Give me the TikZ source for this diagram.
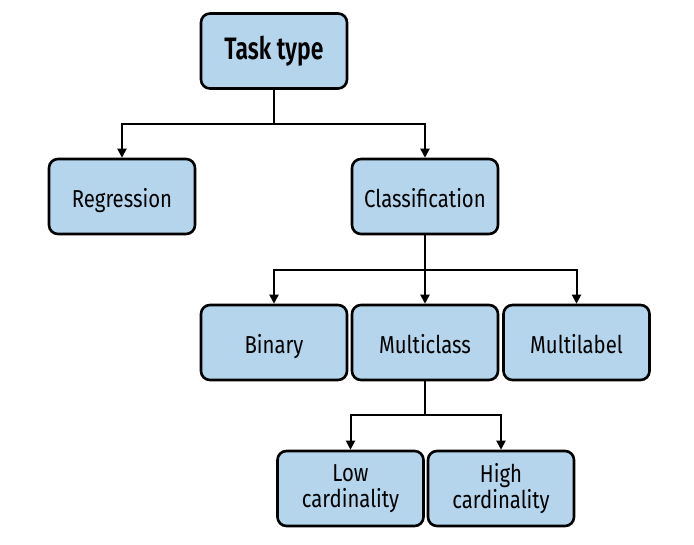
\documentclass[tikz,border=0pt]{standalone}
\usepackage{fontspec}
\setmainfont[FakeStretch=0.83]{Fira Sans}
\newfontfamily\boldfira[FakeStretch=0.74]{Fira Sans SemiBold}
\usetikzlibrary{arrows.meta}
\definecolor{boxblue}{HTML}{B4D5EC}
\tikzset{
  box/.style={draw=black, line width=2.6pt, fill=boxblue, rounded corners=9pt,
    minimum width=146pt, minimum height=75pt, align=center,
    font=\fontsize{24.5}{26.5}\selectfont, inner sep=0pt},
  oneline/.style={text height=21pt, text depth=0pt},
  arr/.style={line width=2pt, -{Triangle[length=9pt,width=9pt]}},
  ln/.style={line width=2pt}
}
\begin{document}
\begin{tikzpicture}[x=1pt,y=-1pt]
\useasboundingbox (0,0) rectangle (694,544);
\node[box, font=\boldfira\fontsize{31}{33}\selectfont] (task) at (274,51) {Task type};
\node[box, oneline] (reg) at (122,196.5) {Regression};
\node[box, oneline] (cls) at (425,196.5) {Classification};
\node[box, oneline] (bin) at (274,342.5) {Binary};
\node[box, oneline] (mc) at (425,342.5) {Multiclass};
\node[box, oneline] (ml) at (576.5,342.5) {Multilabel};
\node[box] (low) at (350.5,488.5) {Low\\cardinality};
\node[box] (high) at (501,488.5) {High\\cardinality};
\coordinate (j1) at (274,124);
\coordinate (j2) at (425,270);
\coordinate (j3) at (425,415);
\draw[ln] (task.south) -- (j1);
\draw[arr] (j1) -| (reg.north);
\draw[arr] (j1) -| (cls.north);
\draw[arr] (cls.south) -- (mc.north);
\draw[arr] (j2) -| (bin.north);
\draw[arr] (j2) -| (ml.north);
\draw[ln] (mc.south) -- (j3);
\draw[arr] (j3) -| (low.north);
\draw[arr] (j3) -| (high.north);
\end{tikzpicture}
\end{document}
